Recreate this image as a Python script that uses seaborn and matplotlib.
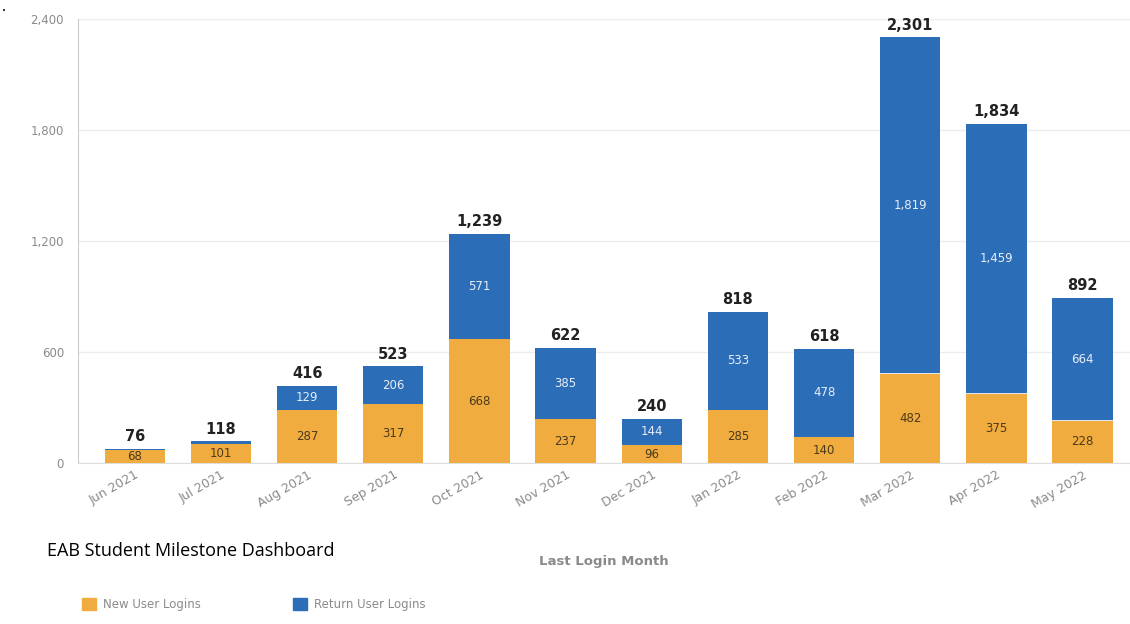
import matplotlib
matplotlib.use("Agg")
import matplotlib.pyplot as plt
import seaborn as sns
import pandas as pd
from matplotlib.patches import Patch

months = ["Jun 2021", "Jul 2021", "Aug 2021", "Sep 2021", "Oct 2021", "Nov 2021",
          "Dec 2021", "Jan 2022", "Feb 2022", "Mar 2022", "Apr 2022", "May 2022"]
new_logins = [68, 101, 287, 317, 668, 237, 96, 285, 140, 482, 375, 228]
return_logins = [8, 17, 129, 206, 571, 385, 144, 533, 478, 1819, 1459, 664]
y_ticks = [0, 600, 1200, 1800, 2400]

orange = "#F0AC3F"
blue = "#2C6DB7"
grey = "#8a8a8a"

df = pd.DataFrame({"month": months, "new": new_logins, "ret": return_logins})
df["total"] = df["new"] + df["ret"]

sns.set_style("white")
fig = plt.figure(figsize=(11.3, 6.24), dpi=100)
ax = fig.add_axes([0.069, 0.258, 0.931, 0.7115])

# stacked bars: draw totals in blue, then new logins in orange over them
sns.barplot(data=df, x="month", y="total", color=blue, width=0.7,
            saturation=1, linewidth=0, ax=ax, zorder=2)
sns.barplot(data=df, x="month", y="new", color=orange, width=0.7,
            saturation=1, linewidth=0, ax=ax, zorder=3)
# thin light line where the two segments meet
ax.bar(range(len(months)), [2] * len(months), bottom=df["new"], width=0.7,
       color="#dfe6ee", zorder=4, linewidth=0)

ax.set_ylim(0, 2400)
ax.set_xlim(-0.66, 11.55)
ax.set_yticks(y_ticks)
ax.set_yticklabels([f"{v:,}" for v in y_ticks], color=grey, fontsize=8.5)
ax.yaxis.grid(True, color="#ececec", linewidth=1, zorder=0)
ax.tick_params(axis="y", length=6, color="#cccccc", pad=4)
ax.tick_params(axis="x", length=0, pad=4)
plt.setp(ax.get_xticklabels(), rotation=30, ha="right", rotation_mode="anchor",
         color=grey, fontsize=9)

for side in ["top", "right"]:
    ax.spines[side].set_visible(False)
ax.spines["left"].set_color("#cccccc")
ax.spines["bottom"].set_color("#dddddd")

ax.set_xlabel("Last Login Month", color=grey, fontsize=9.5, fontweight="bold",
              labelpad=32)
ax.set_ylabel("")

for i, row in df.iterrows():
    ax.text(i, row["total"] + 25, f"{row['total']:,}", ha="center", va="bottom",
            fontsize=10.5, fontweight="bold", color="#222222", zorder=5)
    ax.text(i, row["new"] / 2, f"{row['new']:,}", ha="center", va="center",
            fontsize=8.5, color="#4a3a1a", zorder=5)
    if row["ret"] > 60:
        ax.text(i, row["new"] + row["ret"] / 2, f"{row['ret']:,}", ha="center",
                va="center", fontsize=8.5, color="#e8eef8", zorder=5)

handles = [Patch(color=orange, label="New User Logins"),
           Patch(color=blue, label="Return User Logins")]
fig.legend(handles=handles, loc="center left", bbox_to_anchor=(0.063, 0.032),
           ncol=2, frameon=False, fontsize=8.5, labelcolor=grey,
           handlelength=1.2, handleheight=1.2, columnspacing=7.8, handletextpad=0.6)

fig.text(0.042, 0.117, "EAB Student Milestone Dashboard", fontsize=13,
         family="Open Sans", color="black", va="center")
fig.text(0.002, 0.983, "•", fontsize=5, color="black", va="center")

fig.savefig("out.png", dpi=100)
